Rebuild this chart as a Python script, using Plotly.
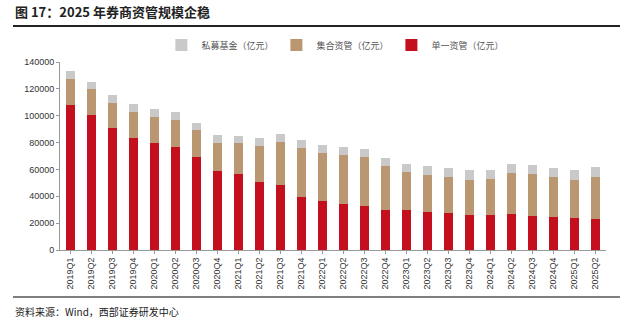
import plotly.graph_objects as go

quarters = ["2019Q1","2019Q2","2019Q3","2019Q4","2020Q1","2020Q2","2020Q3","2020Q4",
            "2021Q1","2021Q2","2021Q3","2021Q4","2022Q1","2022Q2","2022Q3","2022Q4",
            "2023Q1","2023Q2","2023Q3","2023Q4","2024Q1","2024Q2","2024Q3","2024Q4",
            "2025Q1","2025Q2"]

single = [107900, 100700, 90600, 83450, 79500, 77000, 69400, 58700,
          56300, 50900, 48150, 39500, 36300, 34300, 32600, 30100,
          29600, 28600, 27900, 26400, 25900, 26650, 25400, 24950,
          24200, 23450]
collective = [19700, 19300, 19000, 19550, 19800, 20000, 20000, 20800,
              23200, 26400, 32050, 36800, 35800, 36300, 36300, 32100,
              28200, 27200, 26400, 25900, 26900, 30650, 30900, 29150,
              28100, 31150]
private = [5700, 5400, 5700, 5400, 5400, 5700, 5400, 5900,
           5700, 5900, 6200, 5900, 6400, 6400, 6100, 6400,
           6400, 6400, 6700, 7000, 6950, 6650, 6700, 6900,
           7000, 6900]

RED = "#C40F1E"
TAN = "#BA9671"
GREY = "#C9C9C9"
CJK = "Noto Sans CJK SC"
W, H = 636, 324

fig = go.Figure()
fig.add_bar(x=quarters, y=single, name="单一资管（亿元）", marker=dict(color=RED, line_width=0))
fig.add_bar(x=quarters, y=collective, name="集合资管（亿元）", marker=dict(color=TAN, line_width=0))
fig.add_bar(x=quarters, y=private, name="私募基金（亿元）", marker=dict(color=GREY, line_width=0))

# title underline as a decorative line on its own hidden axes
fig.add_scatter(x=[0, 1], y=[0, 0], mode="lines", xaxis="x2", yaxis="y2",
                line=dict(color="#222", width=2), showlegend=False, hoverinfo="skip")

fig.update_layout(
    width=W, height=H,
    barmode="stack", bargap=0.57,
    paper_bgcolor="white", plot_bgcolor="rgba(0,0,0,0)",
    margin=dict(l=0, r=0, t=0, b=0, autoexpand=False),
    showlegend=True,
    legend=dict(orientation="h", traceorder="reversed", x=0.525, xanchor="center",
                y=1 - 45 / H, yref="paper", yanchor="middle", bgcolor="rgba(0,0,0,0)",
                font=dict(family=CJK, size=9, color="#555"),
                entrywidthmode="pixels", entrywidth=70, itemwidth=30),
    xaxis=dict(type="category", domain=[60 / W, 606 / W], tickangle=-90, showline=True,
               linecolor="#999", linewidth=1, ticks="outside", ticklen=3, tickcolor="#999",
               automargin=False,
               tickfont=dict(family="Liberation Sans, Arial", size=9, color="#333"),
               showgrid=False),
    yaxis=dict(domain=[74 / H, 262 / H], range=[0, 140000], dtick=20000, tickformat="d",
               showline=True, linecolor="#999", linewidth=1, ticks="outside", ticklen=3,
               tickcolor="#999", showgrid=False, zeroline=False, automargin=False,
               tickfont=dict(family="Liberation Sans, Arial", size=9, color="#333")),
    xaxis2=dict(domain=[13 / W, 620 / W], range=[0, 1], anchor="y2", visible=False,
                fixedrange=True),
    yaxis2=dict(domain=[1 - 30 / H, 1 - 22 / H], range=[-1, 1], anchor="x2", visible=False,
                fixedrange=True),
    font=dict(family=CJK),
)

fig.add_annotation(text="<b>图 17：2025 年券商资管规模企稳</b>", xref="paper", yref="paper",
                   x=13 / W, y=1 - 12 / H, xanchor="left", yanchor="middle", showarrow=False,
                   font=dict(family=CJK, size=13, color="#222"))
fig.add_annotation(text="资料来源：Wind，西部证券研发中心", xref="paper", yref="paper",
                   x=13 / W, y=1 - 311 / H, xanchor="left", yanchor="middle",
                   showarrow=False, font=dict(family=CJK, size=10, color="#222"))

fig.add_shape(type="line", xref="paper", yref="paper", x0=13 / W, x1=620 / W,
              y0=1 - 297 / H, y1=1 - 297 / H, line=dict(color="#555", width=1.5))

fig.write_html("out.html")
